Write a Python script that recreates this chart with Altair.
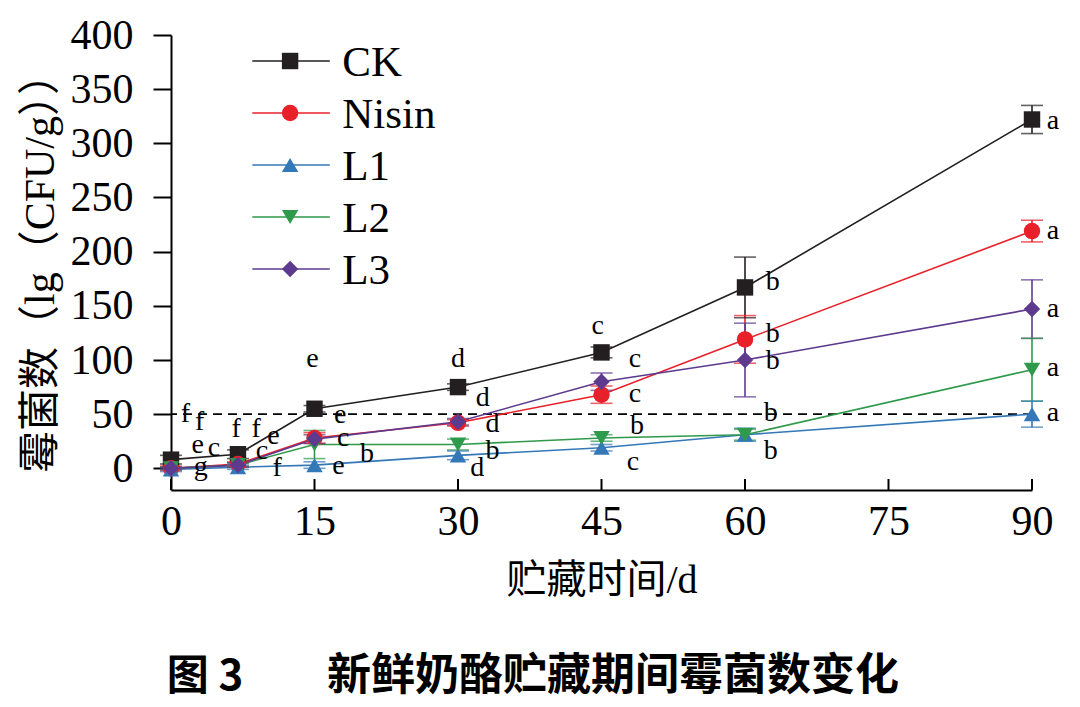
import altair as alt
import pandas as pd

# ---------------- data ----------------
days = [0, 7, 15, 30, 45, 60, 90]
series = ["CK", "Nisin", "L1", "L2", "L3"]
colors = ["#231f20", "#e8202a", "#3478b8", "#2f9a4c", "#5e3a8e"]
shapes = ["square", "circle", "triangle-up", "triangle-down", "diamond"]

ck = [8, 13, 55, 75, 107, 167, 322]
ck_err = [4, 4, 3, 3, 5, 28, 13]
nisin = [0, 4, 28, 42, 68, 119, 219]
nisin_err = [2, 2, 5, 3, 8, 22, 10]
l1 = [-1, 1, 3, 12, 19, 31, 50]
l1_err = [2, 2, 3, 4, 3, 6, 12]
l2 = [0, 3, 22, 22, 28, 31, 91]
l2_err = [1, 2, 13, 5, 3, 5, 29]
l3 = [0, 3, 27, 43, 80, 100, 147]
l3_err = [1, 2, 4, 3, 8, 34, 27]

# significance letters (x, y in data units, letter)
lab_x = [1.5, 3.0, 2.8, 4.5, 3.1,
         6.8, 8.9, 10.7, 9.5, 11.1,
         14.8, 17.7, 18.0, 20.5, 17.5,
         30.0, 32.6, 33.6, 33.6, 32.0,
         44.6, 48.5, 48.5, 48.7, 48.3,
         62.9, 62.9, 62.9, 62.7, 62.7,
         92.2, 92.2, 92.2, 92.2, 92.2]
lab_y = [50, 43, 22, 18.5, 1,
         36, 36, 30, 16, 0,
         101, 49, 28, 13, 2,
         101, 65, 41, 16, 0,
         131, 101, 69, 39, 6,
         172, 124, 99, 51, 16,
         321, 219, 147, 93, 51]
lab_t = ["f", "f", "e", "c", "g",
         "f", "f", "e", "c", "f",
         "e", "e", "c", "b", "e",
         "d", "d", "d", "b", "d",
         "c", "c", "c", "b", "c",
         "b", "b", "b", "b", "b",
         "a", "a", "a", "a", "a"]

x_ticks = [0, 15, 30, 45, 60, 75, 90]
y_ticks = [0, 50, 100, 150, 200, 250, 300, 350, 400]
threshold = [50]

x_title = "贮藏时间/d"
y_title = "霉菌数（lg（CFU/g））"
fig_no = "图 3"
caption = "新鲜奶酪贮藏期间霉菌数变化"

# ---------------- frames ----------------
vals = [ck, nisin, l1, l2, l3]
errs = [ck_err, nisin_err, l1_err, l2_err, l3_err]
rows = []
for si, s in enumerate(series):
    for d, v, e in zip(days, vals[si], errs[si]):
        rows.append({"series": s, "order": si, "day": d, "value": v,
                     "lo": v - e, "hi": v + e})
df = pd.DataFrame(rows)

lab_df = pd.DataFrame({"x": lab_x, "y": lab_y, "t": lab_t})

leg_df = pd.DataFrame({
    "series": series,
    "x1": [8.5] * 5, "x2": [16.6] * 5, "xm": [12.45] * 5, "xt": [17.9] * 5,
    "y": [376 - 48 * i for i in range(5)],
})

SERIF = "Liberation Serif, Noto Sans CJK SC"
CJK = "Noto Sans CJK SC"

xs = alt.Scale(domain=[0, 90], nice=False, zero=False)
ys = alt.Scale(domain=[-20, 400], nice=False, zero=False)
cs = alt.Scale(domain=series, range=colors)
ss = alt.Scale(domain=series, range=shapes)

W, H = 861, 455

base = alt.Chart(df)

x_enc = alt.X("day:Q", scale=xs, axis=alt.Axis(
    values=x_ticks, ticks=False, tickSize=0, title=x_title, labelFont=SERIF,
    labelFontSize=42, labelPadding=11, titleFont=SERIF, titleFontSize=40,
    titleFontWeight="normal", titlePadding=18, domainColor="black",
    domainWidth=2, labelColor="black", titleColor="black", grid=False,
    labelFlush=False))
y_enc = alt.Y("value:Q", scale=ys, axis=alt.Axis(
    values=y_ticks, tickSize=18, tickWidth=2, tickColor="black",
    title=y_title, labelFont=SERIF, labelFontSize=42, labelPadding=20,
    titleFont=SERIF, titleFontSize=42, titleFontWeight="normal",
    titlePadding=8, domainColor="black", domainWidth=2, labelColor="black",
    titleColor="black", grid=False, labelFlush=False))

color = alt.Color("series:N", scale=cs, legend=None)
shape = alt.Shape("series:N", scale=ss, legend=None)

lines = base.mark_line(strokeWidth=1.6).encode(x=x_enc, y=y_enc, color=color,
                                               detail="series:N")
err_rule = base.mark_rule(strokeWidth=1.6).encode(
    x="day:Q", y="lo:Q", y2="hi:Q", color=color)
cap_lo = base.mark_tick(orient="horizontal", size=22, thickness=1.6).encode(
    x="day:Q", y="lo:Q", color=color)
cap_hi = base.mark_tick(orient="horizontal", size=22, thickness=1.6).encode(
    x="day:Q", y="hi:Q", color=color)
points = base.mark_point(filled=True, opacity=1, size=270).encode(
    x="day:Q", y="value:Q", color=color, shape=shape)

dash = alt.Chart(pd.DataFrame({"v": threshold})).mark_rule(
    strokeDash=[9, 6], strokeWidth=1.6, color="black").encode(y="v:Q")

xtick_in = alt.Chart(pd.DataFrame({"t": x_ticks})).mark_rule(
    strokeWidth=2, color="black").encode(
    x="t:Q", y=alt.value(H), y2=alt.value(H - 11))

labels = alt.Chart(lab_df).mark_text(
    font=SERIF, fontSize=28, color="black", align="center",
    baseline="middle").encode(x="x:Q", y="y:Q", text="t:N")

leg_line = alt.Chart(leg_df).mark_rule(strokeWidth=1.6).encode(
    x="x1:Q", x2="x2:Q", y="y:Q", color=color)
leg_pt = alt.Chart(leg_df).mark_point(filled=True, opacity=1, size=270).encode(
    x="xm:Q", y="y:Q", color=color, shape=shape)
leg_txt = alt.Chart(leg_df).mark_text(
    font=SERIF, fontSize=43, color="black", align="left",
    baseline="middle", dy=2).encode(x="xt:Q", y="y:Q", text="series:N")

cap1 = alt.Chart(pd.DataFrame({"t": [fig_no]})).mark_text(
    font=CJK, fontSize=42, fontWeight="bold", color="black",
    align="center", baseline="middle").encode(
    text="t:N", x=alt.value(205 - 171), y=alt.value(677 - 35))
cap2 = alt.Chart(pd.DataFrame({"t": [caption]})).mark_text(
    font=CJK, fontSize=44, fontWeight="bold", color="black",
    align="center", baseline="middle").encode(
    text="t:N", x=alt.value(613 - 171), y=alt.value(677 - 35))

chart = alt.layer(
    dash, lines, err_rule, cap_lo, cap_hi, points, xtick_in, labels,
    leg_line, leg_pt, leg_txt, cap1, cap2
).properties(
    width=W, height=H,
    background="white",
    autosize=alt.AutoSizeParams(type="none"),
    padding={"left": 163, "top": 27, "right": 40, "bottom": 215},
).configure_view(strokeWidth=0, stroke="transparent")

chart.save("out.html", embed_options={"renderer": "svg", "actions": False})
